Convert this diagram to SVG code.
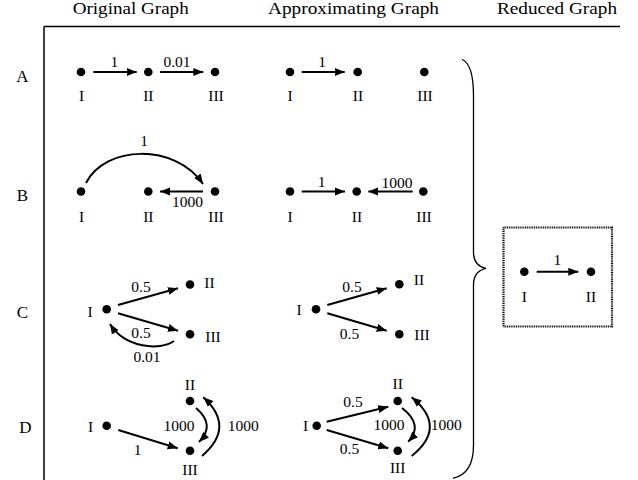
<svg xmlns="http://www.w3.org/2000/svg" width="638" height="480" viewBox="0 0 638 480">
<defs>
<marker id="ah" markerUnits="userSpaceOnUse" markerWidth="11" markerHeight="9" refX="10" refY="4.5" orient="auto">
<path d="M0,0.5 L10,4.5 L0,8.5 z" fill="#000"/>
</marker>
<style>
text{font-family:"Liberation Serif","Times New Roman",serif;fill:#000}
.h{font-size:17px}
.r{font-size:17px;text-anchor:middle}
.n{font-size:15.5px;text-anchor:middle}
.e{font-size:15.5px;text-anchor:middle}
.d{fill:#000}
.c{fill:none;stroke:#000;stroke-width:2;marker-end:url(#ah)}
.ax{fill:none;stroke:#000;stroke-width:1.5}
</style>
</defs>
<rect width="638" height="480" fill="#fff"/>
<g id="headers">
<text class="h" x="72.7" y="14" textLength="116" lengthAdjust="spacingAndGlyphs">Original Graph</text>
<text class="h" x="268" y="14" textLength="171" lengthAdjust="spacingAndGlyphs">Approximating Graph</text>
<text class="h" x="497" y="14" textLength="120" lengthAdjust="spacingAndGlyphs">Reduced Graph</text>
</g>
<g id="frame">
<path class="ax" d="M44,26.5 H620 M44,26.5 V480"/>
<path fill="none" stroke="#000" stroke-width="1.3" d="M462,59.5 Q473.5,64 473.5,96 L473.5,252 Q473.5,266 486,268.3 Q473.5,271 473.5,285 L473.5,445 Q473.5,474 453,478.3"/>
<rect x="503.5" y="227.5" width="108.5" height="99" fill="none" stroke="#000" stroke-width="2.2" stroke-dasharray="1 0.8"/>
</g>
<g id="rowlabels">
<text class="r" x="22.5" y="82">A</text>
<text class="r" x="22.5" y="200.7">B</text>
<text class="r" x="22.5" y="318">C</text>
<text class="r" x="25.5" y="432.7">D</text>
</g>
<g id="A-orig-I"><circle class="d" cx="81" cy="72" r="4.3"/><text class="n" x="81.5" y="101">I</text></g>
<g id="A-orig-II"><circle class="d" cx="148.3" cy="72" r="4.3"/><text class="n" x="148.3" y="101">II</text></g>
<g id="A-orig-III"><circle class="d" cx="215" cy="72" r="4.3"/><text class="n" x="216" y="101">III</text></g>
<g id="A-appr-I"><circle class="d" cx="290" cy="72" r="4.3"/><text class="n" x="290" y="101">I</text></g>
<g id="A-appr-II"><circle class="d" cx="357.7" cy="72" r="4.3"/><text class="n" x="358" y="101">II</text></g>
<g id="A-appr-III"><circle class="d" cx="424.3" cy="72" r="4.3"/><text class="n" x="425" y="101">III</text></g>
<g id="B-orig-I"><circle class="d" cx="81" cy="191.5" r="4.3"/><text class="n" x="81.5" y="221.7">I</text></g>
<g id="B-orig-II"><circle class="d" cx="148.3" cy="191.5" r="4.3"/><text class="n" x="148.3" y="221.7">II</text></g>
<g id="B-orig-III"><circle class="d" cx="215" cy="191.5" r="4.3"/><text class="n" x="216" y="221.7">III</text></g>
<g id="B-appr-I"><circle class="d" cx="290" cy="191.5" r="4.3"/><text class="n" x="290" y="221.7">I</text></g>
<g id="B-appr-II"><circle class="d" cx="356.7" cy="191.5" r="4.3"/><text class="n" x="357" y="221.7">II</text></g>
<g id="B-appr-III"><circle class="d" cx="423.3" cy="191.5" r="4.3"/><text class="n" x="424" y="221.7">III</text></g>
<g id="C-orig-I"><circle class="d" cx="106.7" cy="309.3" r="4.3"/><text class="n" x="90" y="316.7">I</text></g>
<g id="C-orig-II"><circle class="d" cx="190" cy="284.5" r="4.3"/><text class="n" x="209.5" y="287.7">II</text></g>
<g id="C-orig-III"><circle class="d" cx="190" cy="334.3" r="4.3"/><text class="n" x="213" y="341.7">III</text></g>
<g id="C-appr-I"><circle class="d" cx="316" cy="309.3" r="4.3"/><text class="n" x="299" y="315">I</text></g>
<g id="C-appr-II"><circle class="d" cx="399.3" cy="284.3" r="4.3"/><text class="n" x="419" y="285">II</text></g>
<g id="C-appr-III"><circle class="d" cx="399.3" cy="334.3" r="4.3"/><text class="n" x="422" y="340">III</text></g>
<g id="D-orig-I"><circle class="d" cx="106.7" cy="425.7" r="4.3"/><text class="n" x="90.5" y="431.7">I</text></g>
<g id="D-orig-II"><circle class="d" cx="190" cy="401" r="4.3"/><text class="n" x="190" y="390">II</text></g>
<g id="D-orig-III"><circle class="d" cx="190" cy="450.7" r="4.3"/><text class="n" x="190" y="475">III</text></g>
<g id="D-appr-I"><circle class="d" cx="316.7" cy="425.7" r="4.3"/><text class="n" x="305.5" y="431">I</text></g>
<g id="D-appr-II"><circle class="d" cx="397.7" cy="401" r="4.3"/><text class="n" x="397.7" y="389.3">II</text></g>
<g id="D-appr-III"><circle class="d" cx="397.7" cy="450.7" r="4.3"/><text class="n" x="397.7" y="473">III</text></g>
<g id="R-I"><circle class="d" cx="524.3" cy="271.7" r="4.3"/><text class="n" x="524.3" y="301.7">I</text></g>
<g id="R-II"><circle class="d" cx="591" cy="271.7" r="4.3"/><text class="n" x="591" y="301.7">II</text></g>
<g id="connectors">
<path class="c" d="M93.3,72 H136.7"/>
<text class="e" x="114.3" y="66.7">1</text>
<path class="c" d="M160,72 H203.3"/>
<text class="e" x="177" y="66.7">0.01</text>
<path class="c" d="M301.7,72 H344.7"/>
<text class="e" x="322" y="66.7">1</text>
<path class="c" d="M86,183 C105,145 175,143 203,184"/>
<text class="e" x="144" y="146">1</text>
<path class="c" d="M203,191.5 H160"/>
<text class="e" x="187.5" y="206.7">1000</text>
<path class="c" d="M301.7,191.5 H345"/>
<text class="e" x="321.7" y="187">1</text>
<path class="c" d="M412.7,191.5 H368.3"/>
<text class="e" x="397" y="188.3">1000</text>
<path class="c" d="M118,305 L178,288.3"/>
<text class="e" x="141" y="291.7">0.5</text>
<path class="c" d="M118,313.3 L178,330.7"/>
<text class="e" x="141" y="338.3">0.5</text>
<path class="c" d="M174,341 C160,351 125,348 110,324"/>
<text class="e" x="147" y="361.7">0.01</text>
<path class="c" d="M327.3,305 L386.7,288.3"/>
<text class="e" x="352" y="291.7">0.5</text>
<path class="c" d="M327.3,313.3 L386.7,330.7"/>
<text class="e" x="349.5" y="339.3">0.5</text>
<path class="c" d="M118.3,430 L177.7,448.3"/>
<text class="e" x="137.5" y="455">1</text>
<path class="c" d="M196,408 Q216,425 199,442"/>
<text class="e" x="179" y="430.7">1000</text>
<path class="c" d="M202,456 Q236,427 203.3,397.3"/>
<text class="e" x="243.3" y="430.7">1000</text>
<path class="c" d="M326.7,421.7 L388.3,406.7"/>
<text class="e" x="353" y="406.7">0.5</text>
<path class="c" d="M326.7,430 L388.3,448.3"/>
<text class="e" x="349.5" y="454.3">0.5</text>
<path class="c" d="M402,408 Q424,425 408.3,441.7"/>
<text class="e" x="389" y="430">1000</text>
<path class="c" d="M411.7,456 Q448,427 411.7,397.3"/>
<text class="e" x="446.3" y="430">1000</text>
<path class="c" d="M536.7,271.7 H578.3"/>
<text class="e" x="557.3" y="265">1</text>
</g>
</svg>
